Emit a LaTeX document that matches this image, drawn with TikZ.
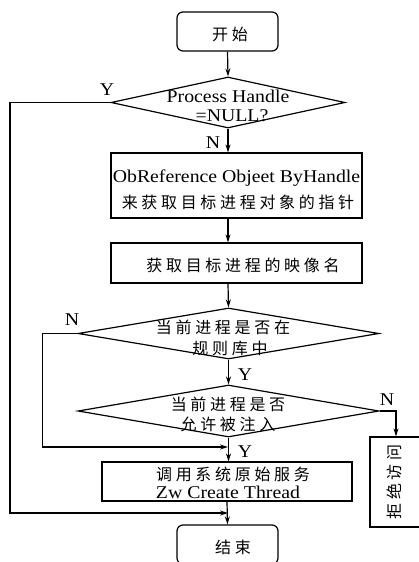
\documentclass[tikz,border=0pt]{standalone}
\usepackage{fontspec}
\setmainfont[FakeStretch=1.1]{Liberation Serif}
\newfontfamily\cjk[LetterSpace=23]{Noto Sans CJK SC}
\usetikzlibrary{arrows.meta,shapes.geometric}

\begin{document}
\begin{tikzpicture}[x=1pt,y=-1pt,
  box/.style={draw, line width=1.2pt, inner sep=0pt},
  term/.style={box, rounded corners=6pt, minimum width=101pt, minimum height=39pt},
  dia/.style={draw, diamond, line width=1.2pt, inner sep=0pt},
  zh/.style={font=\cjk\fontsize{16}{20}\selectfont, inner sep=0pt},
  en/.style={font=\fontsize{18}{20}\selectfont, inner sep=0pt, anchor=base},
  arr/.style={line width=1.2pt, -{Stealth[length=8pt,width=5pt]}},
  ln/.style={line width=1.2pt}]
\useasboundingbox (0,0) rectangle (419,562);

% shapes
\node[term] (start) at (227.5,31.5) {};
\node[dia, minimum width=234pt, minimum height=51pt] (d1) at (228,102.5) {};
\node[box, minimum width=251pt, minimum height=65pt] (ref) at (236.5,185.5) {};
\node[box, minimum width=251pt, minimum height=40pt] (img) at (236.5,263) {};
\node[dia, minimum width=301pt, minimum height=51pt] (d2) at (228.5,333.5) {};
\node[dia, minimum width=301pt, minimum height=52pt] (d3) at (228.5,411) {};
\node[box, minimum width=250pt, minimum height=39pt] (call) at (227,481.5) {};
\node[term] (stop) at (227.5,544.5) {};
\node[box, rotate=90, minimum width=90pt, minimum height=52pt] (deny) at (396,482) {};

% texts
\node[zh] (tstart) at (230,34.5) {开始};
\node[en] (td1a) at (228,102.5) {Process Handle};
\node[en] (td1b) at (232,121.5) {=NULL?};
\node[en] (tref1) at (236.5,182) {ObReference Objeet ByHandle};
\node[zh] (tref2) at (238,202) {来获取目标进程对象的指针};
\node[zh] (timg) at (243,265) {获取目标进程的映像名};
\node[zh] (td2a) at (223,327.5) {当前进程是否在};
\node[zh] (td2b) at (230,348.5) {规则库中};
\node[zh] (td3a) at (228,404.5) {当前进程是否};
\node[zh] (td3b) at (228,424) {允许被注入};
\node[zh] (tcall1) at (233,474.5) {调用系统原始服务};
\node[en] (tcall2) at (228,498) {Zw Create Thread};
\node[zh] (tstop) at (233,547.5) {结束};
\node[zh, rotate=90] (tdeny) at (394,482) {拒绝访问};

% branch labels
\node[en] (ly1) at (107,95) {Y};
\node[en] (ln1) at (213,148) {N};
\node[en] (ln2) at (72,325) {N};
\node[en] (ly2) at (245,380) {Y};
\node[en] (ln3) at (387,405) {N};
\node[en] (ly3) at (245,457) {Y};

% bend points
\coordinate (j1) at (228,447);
\coordinate (j2) at (228,513);
\coordinate (dn) at (396,411);

% connectors
\draw[arr] (start.south) -- (d1.north);
\draw[arr] (d1.south) -- (d1.south |- ref.north);
\draw[arr] (d1.south |- ref.south) -- (d1.south |- img.north);
\draw[arr] (d1.south |- img.south) -- (d2.north);
\draw[arr] (d2.south) -- (d3.north);
\draw[arr] (d3.south) -- (d3.south |- call.north);
\draw[arr] (call.south) -- (stop.north);
\draw[arr] (d2.west) -- ++(-35,0) |- (j1);
\draw[arr] (d1.west) -- (10,102.5) |- (j2);
\draw[arr] (d3.east) -- (dn) -- (deny.east);
\end{tikzpicture}
\end{document}
